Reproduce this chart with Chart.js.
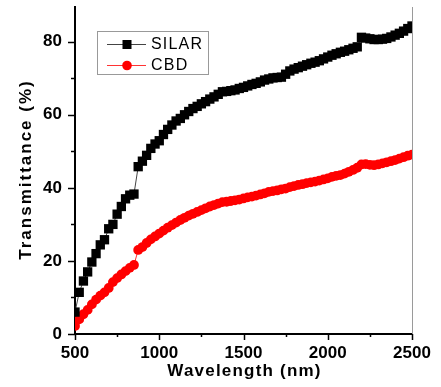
<!DOCTYPE html>
<html>
<head>
<meta charset="utf-8">
<script src="https://cdn.jsdelivr.net/npm/chart.js@4.4.1/dist/chart.umd.min.js"></script>
<style>
  html, body { margin: 0; padding: 0; background: #fff; }
  #wrap { width: 441px; height: 387px; position: relative; }
</style>
</head>
<body>
<div id="wrap"><canvas id="c" width="441" height="387"></canvas></div>
<script>
const wavelengths = [500,525,550,575,600,625,650,675,700,725,750,775,800,825,850,875,900,925,950,975,
  1000,1025,1050,1075,1100,1125,1150,1175,1200,1225,1250,1275,1300,1325,1350,1375,1400,1425,1450,1475,
  1500,1525,1550,1575,1600,1625,1650,1675,1700,1725,1750,1775,1800,1825,1850,1875,1900,1925,1950,1975,
  2000,2025,2050,2075,2100,2125,2150,2175,2200,2225,2250,2275,2300,2325,2350,2375,2400,2425,2450,2475,2500];
const silar = [6,11.4,14.5,17,19.7,22,24.4,25.8,28.8,30,32.8,34.9,37,38,38.3,45.8,47.3,48.9,50.8,52,
  52.9,54.6,56,57.2,58.3,59,60,60.9,61.7,62.3,63,63.6,64.3,64.9,65.6,66.3,66.4,66.6,66.8,67.2,
  67.5,67.9,68.3,68.6,69,69.5,69.8,70.1,70.2,70.3,71.1,72,72.5,72.9,73.3,73.7,74.1,74.4,74.8,75.3,
  75.8,76.3,76.7,77.1,77.4,77.8,78.2,78.6,81.2,81,80.8,80.6,80.6,80.7,80.9,81.3,81.8,82.3,82.9,83.6,84.3];
const cbd = [2.2,4,5.4,6.6,8.1,9.4,10.5,11.4,12.6,14.2,15.3,16.3,17.2,18.1,18.9,23,23.8,24.9,25.9,26.7,
  27.5,28.3,29.1,29.8,30.5,31.2,31.8,32.4,32.9,33.4,33.9,34.4,34.9,35.3,35.7,36.1,36.2,36.4,36.6,36.8,
  37.1,37.4,37.6,37.9,38.2,38.5,38.9,39.1,39.3,39.6,39.8,40.2,40.5,40.8,41,41.3,41.5,41.7,42,42.3,
  42.6,43,43.3,43.5,43.9,44.4,44.9,45.5,46.4,46.5,46.3,46.2,46.4,46.7,47,47.3,47.6,48,48.4,48.8,49.1];
const seriesNames = ['SILAR', 'CBD'];
const xTickLabels = [500, 1000, 1500, 2000, 2500];
const yTickLabels = [0, 20, 40, 60, 80];
const xTitle = 'Wavelength (nm)';
const yTitle = 'Transmittance (%)';

const FONT = '"Liberation Sans", Arial, sans-serif';

const toXY = arr => arr.map((v, i) => ({ x: wavelengths[i], y: v }));

const decor = {
  id: 'decor',
  afterDraw(chart) {
    const ctx = chart.ctx;
    const a = chart.chartArea;
    const xs = chart.scales.x, ys = chart.scales.y;
    ctx.save();
    // right frame line
    ctx.strokeStyle = '#9a9a9a';
    ctx.lineWidth = 1;
    ctx.beginPath();
    ctx.moveTo(a.right + 0.5, a.top);
    ctx.lineTo(a.right + 0.5, a.bottom);
    ctx.stroke();
    // ticks
    ctx.strokeStyle = '#000';
    ctx.lineWidth = 1.5;
    for (let v = 0; v <= 80; v += 10) {
      const y = Math.round(ys.getPixelForValue(v)) + 0.5;
      const len = yTickLabels.includes(v) ? 7 : 4;
      ctx.beginPath(); ctx.moveTo(a.left, y); ctx.lineTo(a.left - len, y); ctx.stroke();
    }
    for (let v = 500; v <= 2500; v += 250) {
      const x = Math.round(xs.getPixelForValue(v)) + 0.5;
      const len = xTickLabels.includes(v) ? 6 : 3;
      ctx.beginPath(); ctx.moveTo(x, a.bottom); ctx.lineTo(x, a.bottom + len); ctx.stroke();
    }
    // axis titles
    ctx.fillStyle = '#000';
    ctx.font = 'bold 17px ' + FONT;
    ctx.textAlign = 'center';
    ctx.textBaseline = 'middle';
    ctx.letterSpacing = '1.2px';
    ctx.fillText(xTitle, (a.left + a.right) / 2 + 1, 371);
    ctx.save();
    ctx.translate(26, (a.top + a.bottom) / 2 - 1);
    ctx.rotate(-Math.PI / 2);
    ctx.letterSpacing = '2px';
    ctx.fillText(yTitle, 0, 0);
    ctx.restore();
    // legend
    ctx.letterSpacing = '0px';
    ctx.strokeStyle = '#999';
    ctx.lineWidth = 1;
    ctx.strokeRect(97.5, 31.5, 111, 43);
    const rows = [
      { y: 44.5, line: '#444', fill: '#000', style: 'rect' },
      { y: 65.5, line: '#f33', fill: '#f00', style: 'circle' }
    ];
    rows.forEach((r, i) => {
      ctx.strokeStyle = r.line;
      ctx.lineWidth = 1;
      ctx.beginPath(); ctx.moveTo(107, r.y); ctx.lineTo(146, r.y); ctx.stroke();
      ctx.fillStyle = r.fill;
      if (r.style === 'rect') {
        ctx.fillRect(122.5, r.y - 4.5, 9, 9);
      } else {
        ctx.beginPath(); ctx.arc(127, r.y, 4.8, 0, Math.PI * 2); ctx.fill();
      }
      ctx.fillStyle = '#000';
      ctx.font = '16px ' + FONT;
      ctx.textAlign = 'left';
      ctx.letterSpacing = '1.2px';
      ctx.fillText(seriesNames[i], 151, r.y + 0.5);
    });
    ctx.restore();
  }
};

new Chart(document.getElementById('c'), {
  type: 'line',
  data: {
    datasets: [
      {
        label: seriesNames[0],
        data: toXY(silar),
        borderColor: '#444',
        borderWidth: 1,
        backgroundColor: '#000',
        pointStyle: 'rect',
        pointRadius: 6.6,
        pointBorderWidth: 0,
        pointBackgroundColor: '#000',
        tension: 0
      },
      {
        label: seriesNames[1],
        data: toXY(cbd),
        borderColor: '#f33',
        borderWidth: 1,
        backgroundColor: '#f00',
        pointStyle: 'circle',
        pointRadius: 4.9,
        pointBorderWidth: 0,
        pointBackgroundColor: '#f00',
        tension: 0
      }
    ]
  },
  options: {
    responsive: false,
    animation: false,
    events: [],
    layout: { padding: { left: 0, right: 29, top: 7, bottom: 0 } },
    plugins: { legend: { display: false }, tooltip: { enabled: false } },
    scales: {
      x: {
        type: 'linear',
        min: 500, max: 2500,
        afterFit(s) { s.height = 53; s.paddingLeft = 0; s.paddingRight = 0; },
        border: { display: true, color: '#000', width: 2 },
        grid: { display: true, drawOnChartArea: false, drawTicks: true, tickLength: 6, color: 'rgba(0,0,0,0)' },
        ticks: {
          stepSize: 250,
          autoSkip: false,
          maxRotation: 0,
          padding: 3,
          color: '#000',
          font: { family: FONT, size: 17, weight: 'bold' },
          callback: v => xTickLabels.includes(v) ? String(v) : ''
        }
      },
      y: {
        min: 0, max: 89.5,
        afterFit(s) { s.width = 75; s.paddingTop = 0; s.paddingBottom = 0; },
        border: { display: true, color: '#000', width: 2 },
        grid: { display: true, drawOnChartArea: false, drawTicks: true, tickLength: 7, color: 'rgba(0,0,0,0)' },
        ticks: {
          stepSize: 10,
          autoSkip: false,
          padding: 6,
          color: '#000',
          font: { family: FONT, size: 17, weight: 'bold' },
          callback: v => yTickLabels.includes(v) ? String(v) : ''
        }
      }
    }
  },
  plugins: [decor]
});
</script>
</body>
</html>
